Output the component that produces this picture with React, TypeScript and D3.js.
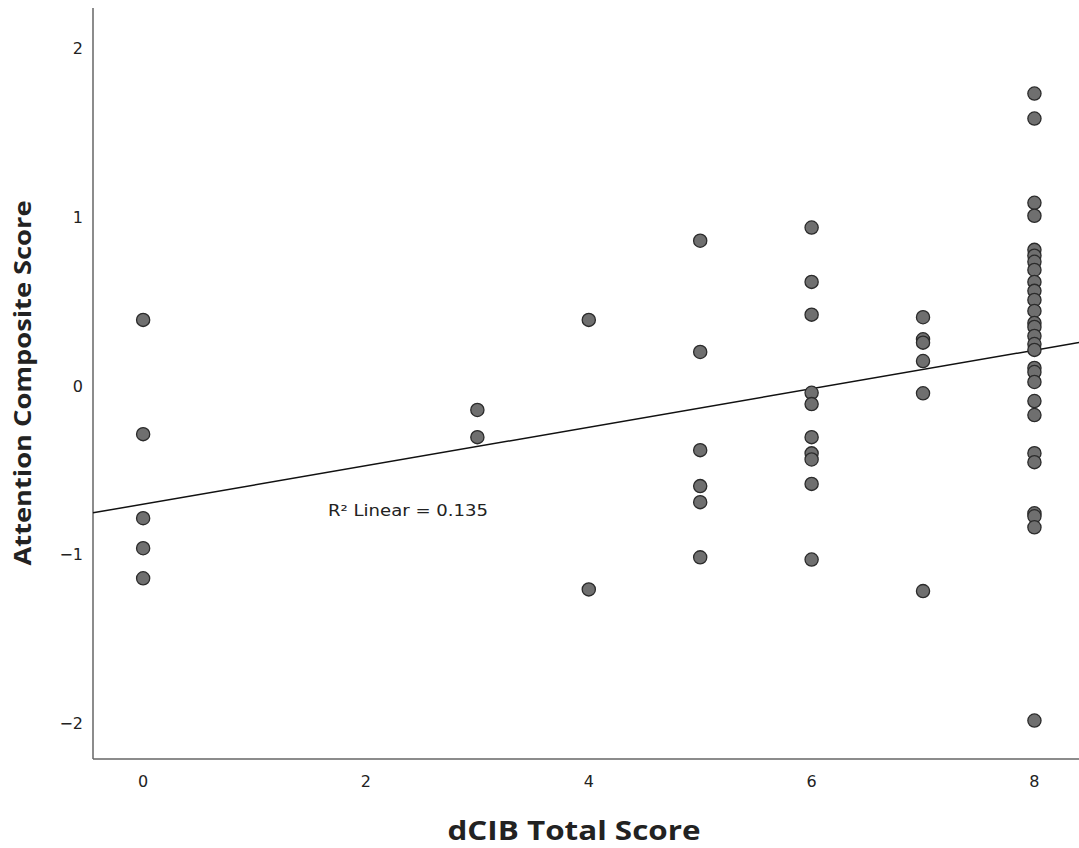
import React from "react";
import * as d3 from "d3";

const dcibScores = [0, 3, 4, 5, 6, 7, 8];
const attention0 = [0.392, -0.285, -0.783, -0.961, -1.139];
const attention3 = [-0.142, -0.303];
const attention4 = [0.392, -1.205];
const attention5 = [0.861, 0.202, -0.38, -0.593, -0.688, -1.015];
const attention6 = [0.939, 0.617, 0.423, -0.04, -0.107, -0.303, -0.399, -0.435, -0.58, -1.028];
const attention7 = [0.408, 0.277, 0.257, 0.148, -0.043, -1.215];
const attention8 = [
  1.733, 1.585, 1.086, 1.009, 0.807, 0.772, 0.736, 0.688, 0.617, 0.564, 0.51, 0.445, 0.374, 0.35,
  0.297, 0.249, 0.214, 0.107, 0.083, 0.024, -0.089, -0.172, -0.398, -0.451, -0.754, -0.772, -0.837,
  -1.982,
];
const seriesByScore = [attention0, attention3, attention4, attention5, attention6, attention7, attention8];

const xTicks = [0, 2, 4, 6, 8];
const yTicks = [-2, -1, 0, 1, 2];
const fitIntercept = -0.7;
const fitSlope = 0.114;
const r2Label = "R² Linear = 0.135";
const xTitle = "dCIB Total Score";
const yTitle = "Attention Composite Score";

const W = 1079;
const H = 848;

export default function App() {
  const x = d3.scaleLinear().domain([-0.45, 8.4]).range([93, 1079]);
  const y = d3.scaleLinear().domain([-2.21, 2.24]).range([759, 8]);
  const fmt = d3.format("d");
  const points = dcibScores.flatMap((s, i) => seriesByScore[i].map((v) => ({ s, v })));
  const [x0, x1] = x.domain();
  const line = d3
    .line<number>()
    .x((d) => x(d))
    .y((d) => y(fitIntercept + fitSlope * d));

  return (
    <svg
      width={W}
      height={H}
      style={{ position: "absolute", left: 0, top: 0, background: "#fff" }}
    >
      <rect x={0} y={0} width={W} height={H} fill="#fff" />
      <line x1={93} x2={93} y1={y.range()[1]} y2={y.range()[0]} stroke="#666" strokeWidth={1.5} />
      <line x1={93} x2={W} y1={759} y2={759} stroke="#666" strokeWidth={1.5} />
      {yTicks.map((t) => (
        <text
          key={"y" + t}
          x={83}
          y={y(t)}
          dy="0.35em"
          textAnchor="end"
          fontFamily="DejaVu Sans, sans-serif"
          fontSize={16}
          fill="#222"
        >
          {fmt(t)}
        </text>
      ))}
      {xTicks.map((t) => (
        <text
          key={"x" + t}
          x={x(t)}
          y={781}
          dy="0.35em"
          textAnchor="middle"
          fontFamily="DejaVu Sans, sans-serif"
          fontSize={16}
          fill="#222"
        >
          {fmt(t)}
        </text>
      ))}
      <path d={line([x0, x1]) || ""} stroke="#111" strokeWidth={1.5} fill="none" />
      {points.map((p, i) => (
        <circle
          key={i}
          cx={x(p.s)}
          cy={y(p.v)}
          r={6.6}
          fill="#6f6f6f"
          stroke="#2b2b2b"
          strokeWidth={1.3}
        />
      ))}
      <text
        x={328}
        y={516}
        fontFamily="DejaVu Sans, sans-serif"
        fontSize={15}
        fill="#222"
        textLength={160}
        lengthAdjust="spacingAndGlyphs"
      >
        {r2Label}
      </text>
      <text
        x={574}
        y={840}
        textAnchor="middle"
        fontFamily="Open Sans, sans-serif"
        fontWeight="bold"
        fontSize={27}
        fill="#222"
        textLength={253}
        lengthAdjust="spacingAndGlyphs"
      >
        {xTitle}
      </text>
      <text
        transform={`translate(31,383) rotate(-90)`}
        textAnchor="middle"
        fontFamily="Open Sans, sans-serif"
        fontWeight="bold"
        fontSize={24}
        fill="#222"
        textLength={365}
        lengthAdjust="spacingAndGlyphs"
      >
        {yTitle}
      </text>
    </svg>
  );
}
